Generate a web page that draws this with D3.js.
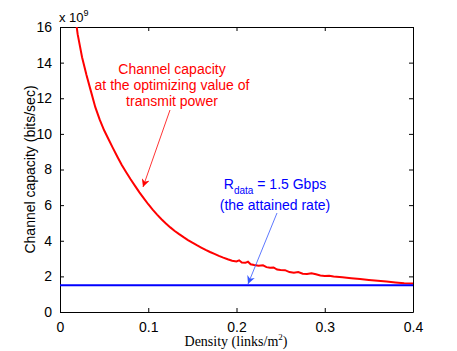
<!DOCTYPE html>
<meta charset="utf-8">
<style>
  body { margin: 0; background: #fff; }
  text { font-family: "Liberation Sans", Arial, sans-serif; }
</style>
<script src="https://d3js.org/d3.v7.min.js"></script>
<div id="chart"></div>
<script>
// density (links/m^2) and channel capacity (x 10^9 bits/sec)
var density = [0.015, 0.02, 0.025, 0.03, 0.035, 0.04, 0.045, 0.05, 0.055, 0.06,
  0.065, 0.07, 0.075, 0.08, 0.085, 0.09, 0.095, 0.1, 0.105, 0.11,
  0.115, 0.12, 0.125, 0.13, 0.135, 0.14, 0.145, 0.15, 0.155, 0.16,
  0.165, 0.17, 0.175, 0.18, 0.185, 0.19, 0.195, 0.2, 0.203, 0.206,
  0.21, 0.213, 0.216, 0.22, 0.225, 0.23, 0.234, 0.238, 0.242, 0.246,
  0.25, 0.255, 0.26, 0.265, 0.27, 0.275, 0.28, 0.285, 0.29, 0.295,
  0.3, 0.305, 0.31, 0.32, 0.33, 0.34, 0.35, 0.36, 0.37, 0.38, 0.39, 0.4];
var capacity = [17.5, 15.6, 14.3, 13.3, 12.4, 11.5, 10.8, 10.2, 9.7, 9.2,
  8.72, 8.25, 7.85, 7.45, 7.08, 6.72, 6.38, 6.05, 5.75, 5.47,
  5.21, 4.97, 4.75, 4.55, 4.37, 4.2, 4.04, 3.89, 3.75, 3.62,
  3.49, 3.37, 3.26, 3.15, 3.05, 2.96, 2.88, 2.84, 2.9, 2.78,
  2.76, 2.82, 2.68, 2.64, 2.6, 2.62, 2.52, 2.48, 2.5, 2.38,
  2.36, 2.35, 2.24, 2.2, 2.24, 2.15, 2.13, 2.18, 2.12, 2.05,
  2.02, 2.04, 1.99, 1.95, 1.9, 1.85, 1.8, 1.76, 1.71, 1.66, 1.62, 1.6];
var rateData = 1.5;
var xTicks = [0, 0.1, 0.2, 0.3, 0.4];
var yTicks = [0, 2, 4, 6, 8, 10, 12, 14, 16];

var margin = {top: 27, right: 44, bottom: 39, left: 60},
    W = 457, H = 351,
    width = W - margin.left - margin.right,
    height = H - margin.top - margin.bottom;

var svg = d3.select('#chart').append('svg')
    .attr('width', W).attr('height', H);

var g = svg.append('g')
    .attr('transform', 'translate(' + margin.left + ',' + margin.top + ')');

var x = d3.scaleLinear().domain([0, 0.4]).range([0, width]);
var y = d3.scaleLinear().domain([0, 16]).range([height, 0]);

svg.append('defs').append('clipPath').attr('id', 'clip')
  .append('rect').attr('width', width).attr('height', height);

// axes with inward ticks on all four sides
var fmtX = d => d === 0 ? '0' : d3.format('.1f')(d);
g.append('g').attr('transform', 'translate(0,' + height + ')')
  .call(d3.axisBottom(x).tickValues(xTicks).tickSizeInner(-4).tickSizeOuter(0).tickPadding(10).tickFormat(fmtX))
  .call(a => a.selectAll('text').attr('font-size', 14).attr('font-family', 'Liberation Sans, Arial, sans-serif'));
g.append('g')
  .call(d3.axisTop(x).tickValues(xTicks).tickSizeInner(-4).tickSizeOuter(0).tickFormat(''));
g.append('g')
  .call(d3.axisLeft(y).tickValues(yTicks).tickSizeInner(-4).tickSizeOuter(0).tickPadding(8))
  .call(a => a.selectAll('text').attr('font-size', 14).attr('font-family', 'Liberation Sans, Arial, sans-serif'));
g.append('g').attr('transform', 'translate(' + width + ',0)')
  .call(d3.axisRight(y).tickValues(yTicks).tickSizeInner(-4).tickSizeOuter(0).tickFormat(''));
g.selectAll('.domain').attr('stroke', '#000');
g.selectAll('.tick line').attr('stroke', '#000');
g.selectAll('.tick text').attr('fill', '#000');

// data lines
var pts = density.map((d, i) => [d, capacity[i]]);
g.append('path').datum(pts)
  .attr('clip-path', 'url(#clip)')
  .attr('fill', 'none').attr('stroke', '#ff0000').attr('stroke-width', 2)
  .attr('d', d3.line().x(d => x(d[0])).y(d => y(d[1])));

g.append('line')
  .attr('x1', x(0)).attr('x2', x(0.4))
  .attr('y1', y(rateData)).attr('y2', y(rateData))
  .attr('stroke', '#0000ff').attr('stroke-width', 2);

// arrows
var defs = svg.select('defs');
function marker(id, col) {
  defs.append('marker').attr('id', id)
    .attr('viewBox', '0 0 10 10').attr('refX', 10).attr('refY', 5)
    .attr('markerWidth', 8).attr('markerHeight', 8).attr('markerUnits', 'userSpaceOnUse')
    .attr('orient', 'auto')
    .append('path').attr('d', 'M0,0 L10,5 L0,10 L3,5 Z').attr('fill', col);
}
marker('arrRed', '#ff0000');
marker('arrBlue', '#3355ff');

svg.append('line').attr('x1', 170).attr('y1', 110).attr('x2', 143).attr('y2', 187)
  .attr('stroke', '#ff0000').attr('stroke-width', 0.8).attr('marker-end', 'url(#arrRed)');
svg.append('line').attr('x1', 277).attr('y1', 213).attr('x2', 248).attr('y2', 284)
  .attr('stroke', '#3355ff').attr('stroke-width', 0.8).attr('marker-end', 'url(#arrBlue)');

// annotations
var redLines = ['Channel capacity', 'at the optimizing value of', 'transmit power'];
svg.append('g').selectAll('text').data(redLines).enter().append('text')
  .attr('x', 172).attr('y', (d, i) => 74 + i * 16)
  .attr('text-anchor', 'middle').attr('font-size', 14).attr('fill', '#ff0000')
  .text(d => d);

var rt = svg.append('text').attr('x', 275).attr('y', 189)
  .attr('text-anchor', 'middle').attr('font-size', 14).attr('fill', '#0000ff');
rt.append('tspan').text('R');
rt.append('tspan').attr('font-size', 10).attr('dy', 5).text('data');
rt.append('tspan').attr('dy', -5).text(' = 1.5 Gbps');
svg.append('text').attr('x', 275).attr('y', 210)
  .attr('text-anchor', 'middle').attr('font-size', 14).attr('fill', '#0000ff')
  .text('(the attained rate)');

// axis labels
var ex = svg.append('text').attr('x', 59).attr('y', 22).attr('font-size', 13);
ex.append('tspan').text('x 10');
ex.append('tspan').attr('font-size', 9).attr('dy', -6).text('9');

svg.append('text')
  .attr('transform', 'translate(35,' + (margin.top + height / 2) + ') rotate(-90)')
  .attr('text-anchor', 'middle').attr('font-size', 14)
  .text('Channel capacity (bits/sec)');

var xl = svg.append('text').attr('x', 236).attr('y', 346)
  .attr('text-anchor', 'middle').attr('font-size', 14)
  .style('font-family', '"Liberation Serif", "Times New Roman", serif');
xl.append('tspan').text('Density (links/m');
xl.append('tspan').attr('font-size', 9).attr('dy', -6).text('2');
xl.append('tspan').attr('dy', 6).text(')');
</script>
